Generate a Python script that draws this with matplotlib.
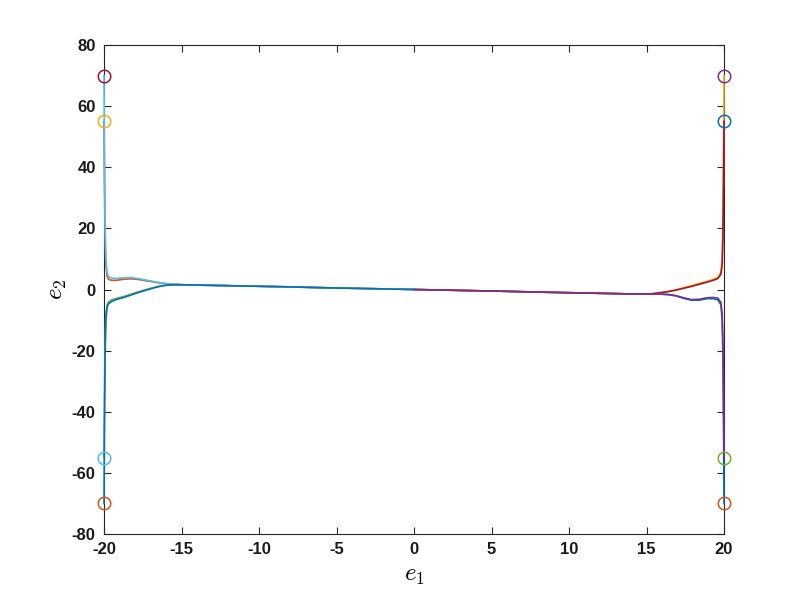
import matplotlib
matplotlib.use('Agg')
import matplotlib.pyplot as plt

# MATLAB default colour order
matlab_colors = ['#0072BD', '#D95319', '#EDB120', '#7E2F8E',
                 '#77AC30', '#4DBEEE', '#A2142F']

# near-vertical reaching phase, left and right start points
head_e1_left = [-20, -19.97, -19.93, -19.88, -19.8, -19.7, -19.5, -19.2,
                -18.8, -18.3, -17.8, -17.2, -16.6, -16.0, -15.3]
head_e1_right = [20, 19.97, 19.93, 19.88, 19.8, 19.6, 19.3, 18.9,
                 18.4, 17.9, 17.4, 16.9, 16.4, 15.8, 15.2]

# sliding phase towards the origin
tail_e1_left = [-14, -12, -10, -8, -6, -4, -2, 0]
tail_e2_left = [1.45, 1.25, 1.05, 0.85, 0.6, 0.4, 0.2, 0.0]
tail_e1_right = [14, 12, 10, 8, 6, 4, 2, 0]
tail_e2_right = [-1.45, -1.25, -1.05, -0.85, -0.6, -0.4, -0.2, 0.0]

# e2 values of every trajectory along its head
traj_r_m70 = [-70, -45, -22, -10, -5, -3.4, -3.0, -3.0, -3.5, -3.5, -2.9, -2.1, -1.7, -1.5, -1.5]
traj_r_p70 = [70, 45, 22, 10, 5.8, 4.0, 3.3, 2.7, 2.0, 1.3, 0.6, -0.1, -0.6, -1.1, -1.5]
traj_l_m55 = [-55, -35, -17, -8, -5, -4, -3.4, -2.9, -2.4, -1.6, -0.8, 0.1, 0.9, 1.4, 1.6]
traj_r_p55 = [55, 35, 17, 8, 5.0, 3.6, 3.0, 2.4, 1.7, 1.0, 0.4, -0.2, -0.7, -1.1, -1.5]
traj_l_p55 = [55, 35, 17, 8, 4.3, 3.3, 3.0, 3.0, 3.3, 3.5, 3.3, 2.8, 2.3, 1.9, 1.6]
traj_r_m55 = [-55, -35, -17, -8, -4.2, -2.8, -2.6, -2.7, -3.2, -3.3, -2.7, -2.0, -1.6, -1.5, -1.5]
traj_l_p70 = [70, 45, 22, 10, 5.5, 4.2, 3.7, 3.6, 3.8, 3.9, 3.6, 3.0, 2.4, 1.9, 1.6]
traj_l_m70 = [-70, -45, -22, -10, -5.8, -4.6, -3.9, -3.3, -2.7, -1.9, -1.0, -0.1, 0.8, 1.4, 1.6]

trajs = [('r', traj_r_m70), ('r', traj_r_p70), ('l', traj_l_m55), ('r', traj_r_p55),
         ('l', traj_l_p55), ('r', traj_r_m55), ('l', traj_l_p70), ('l', traj_l_m70)]

plt.rcParams['mathtext.fontset'] = 'cm'
plt.rcParams['axes.unicode_minus'] = False
tick_font = ['Liberation Sans Narrow', 'Liberation Sans', 'DejaVu Sans']

fig = plt.figure(figsize=(8, 6), dpi=100)
ax = fig.add_axes([0.13, 0.11, 0.775, 0.815])

k = 0
for side, e2_head in trajs:
    if side == 'l':
        xs = head_e1_left + tail_e1_left
        ys = e2_head + tail_e2_left
    else:
        xs = head_e1_right + tail_e1_right
        ys = e2_head + tail_e2_right
    ax.plot(xs, ys, '-', color=matlab_colors[k % 7], lw=1.2,
            clip_on=False, zorder=3)
    k += 1
    ax.plot(xs[0], ys[0], 'o', mfc='none', mec=matlab_colors[k % 7],
            ms=9, mew=1.1, clip_on=False, zorder=5)
    k += 1

ax.set_xlim(-20, 20)
ax.set_ylim(-80, 80)
ax.set_xticks(range(-20, 21, 5))
ax.set_yticks(range(-80, 81, 20))

for s in ax.spines.values():
    s.set_color('#262626')
    s.set_linewidth(0.8)
ax.tick_params(direction='in', length=5, width=0.8, color='#262626',
               top=True, right=True, labelsize=12, pad=6)
for lab in ax.get_xticklabels() + ax.get_yticklabels():
    lab.set_family(tick_font)
    lab.set_fontweight('bold')
    lab.set_color('#1a1a1a')

ax.set_xlabel(r'$e_1$', fontsize=18, labelpad=4)
ax.set_ylabel(r'$e_2$', fontsize=18, labelpad=2)

fig.savefig('out.png', dpi=100)
